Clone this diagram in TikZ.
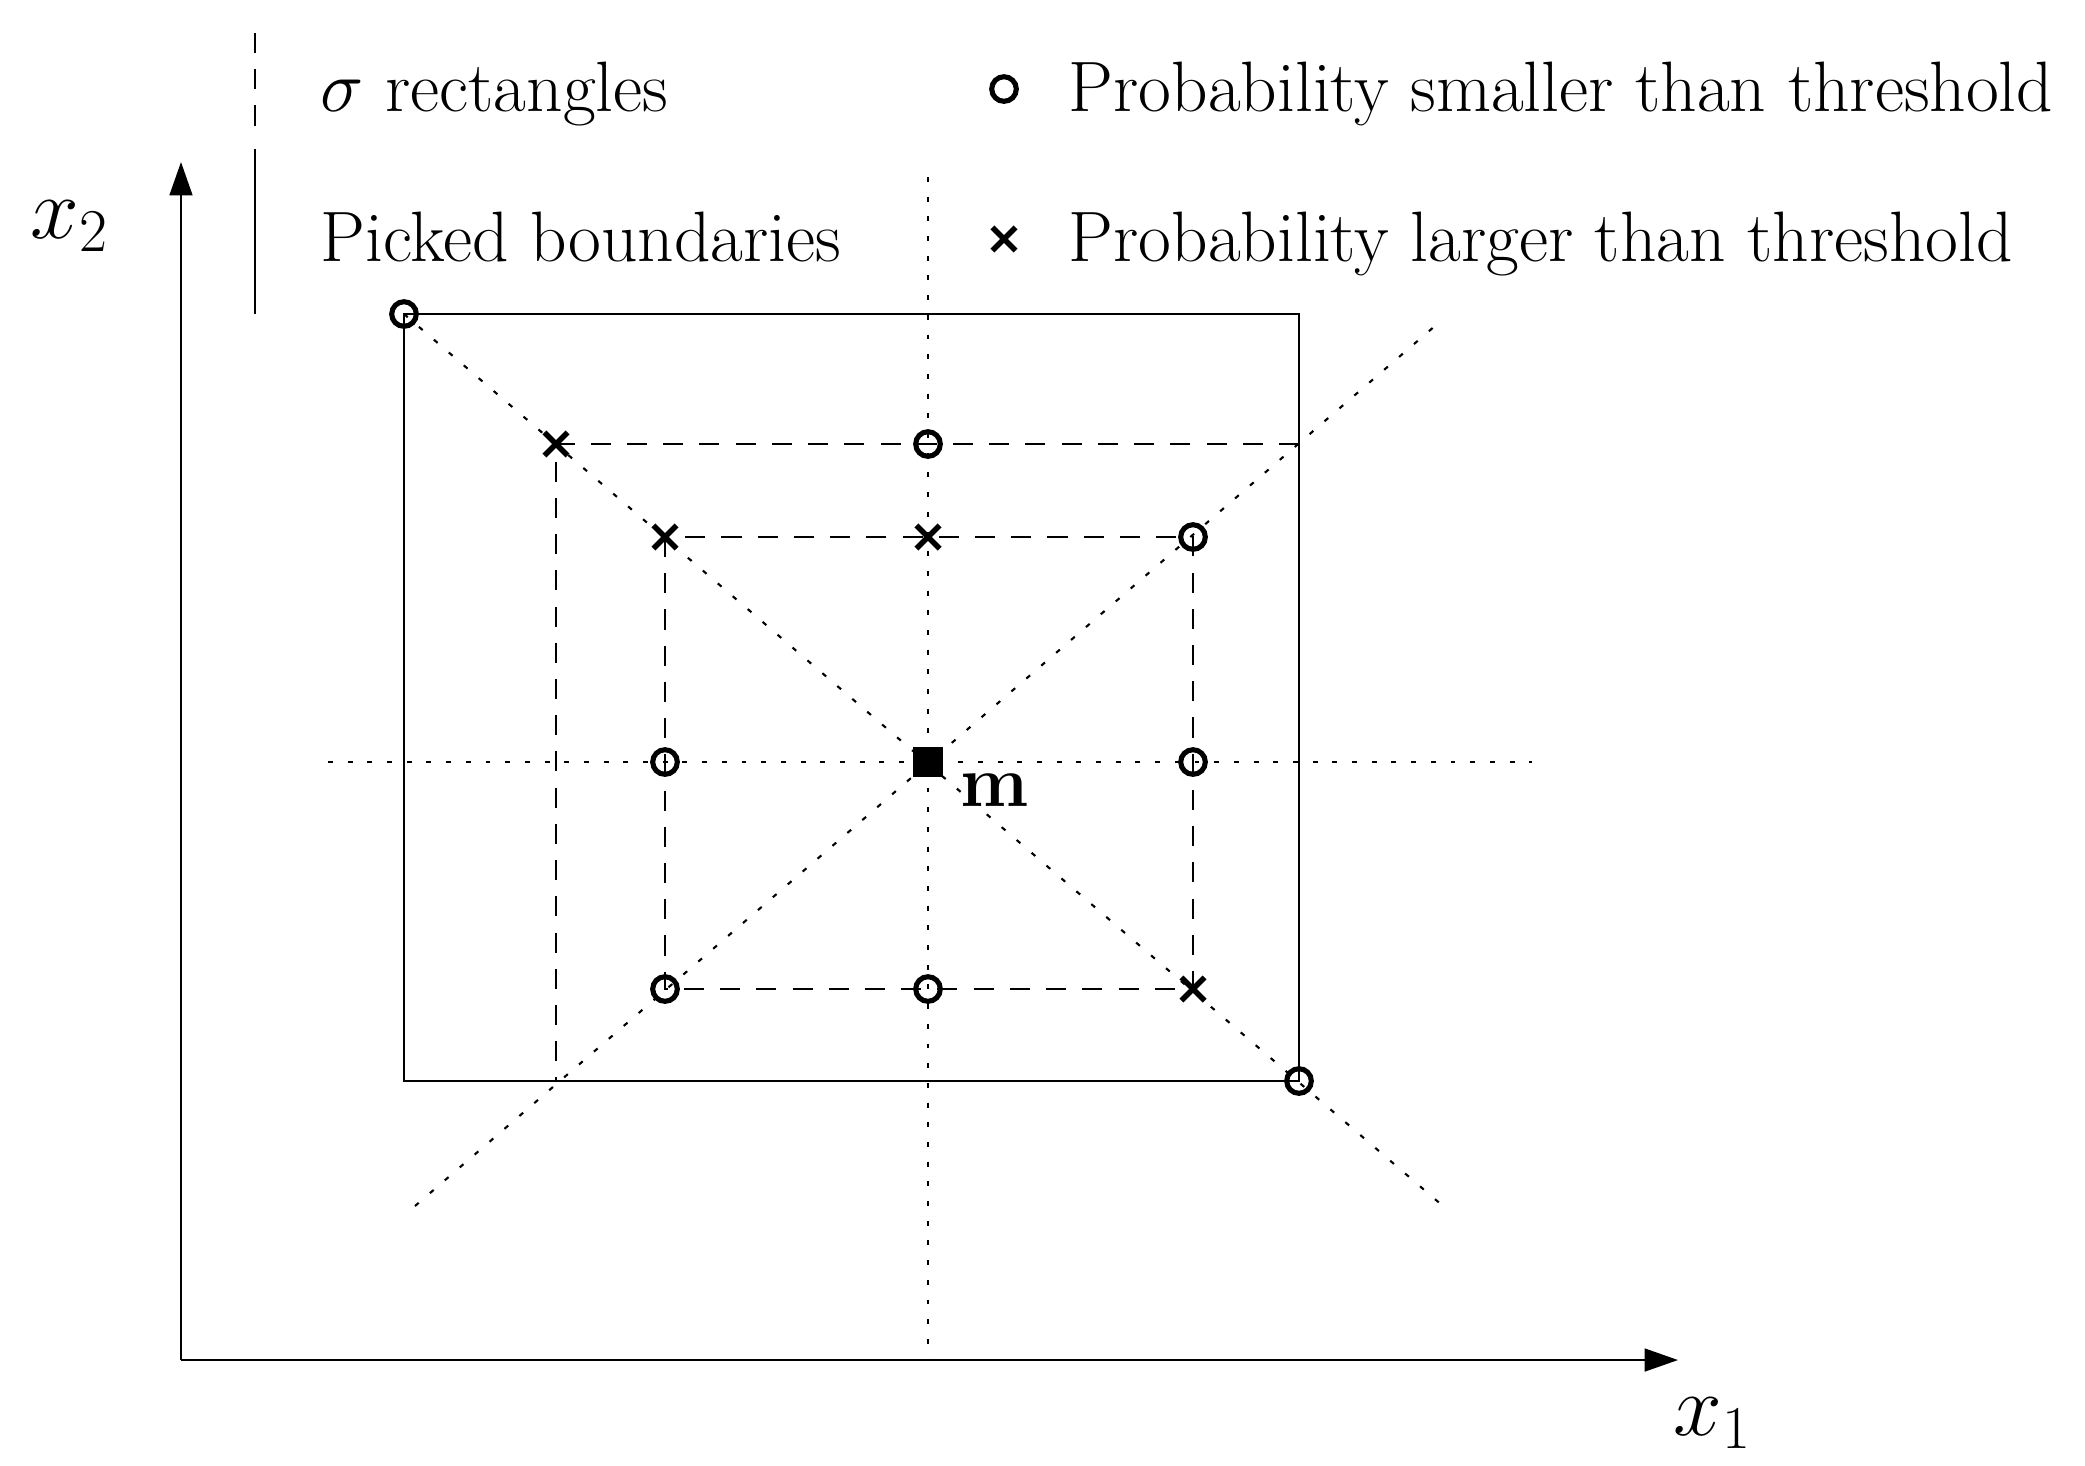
\documentclass[tikz,border=0pt]{standalone}
\usetikzlibrary{arrows.meta}
\tikzset{
  ax/.style={line width=0.6pt,-{Triangle[length=9.5pt,width=6.5pt]}},
  solidln/.style={line width=0.6pt},
  dashln/.style={line width=0.6pt,dash pattern=on 5.7pt off 4.6pt},
  dotln/.style={line width=0.6pt,dash pattern=on 1.4pt off 4.2pt},
  lowp/.pic={\draw[line width=1.45pt] (0,0) circle (3.5pt);},
  highp/.pic={\draw[line width=1.55pt] (-3.3pt,-3.3pt) -- (3.3pt,3.3pt) (-3.3pt,3.3pt) -- (3.3pt,-3.3pt);},
  lbl/.style={anchor=base west,inner sep=0pt},
  axlbl/.style={font=\fontsize{24}{28}\selectfont}
}
\begin{document}
\begin{tikzpicture}[x=0.01cm,y=-0.01cm,font=\fontsize{20.3}{24}\selectfont]
\useasboundingbox (0,0) rectangle (2085,1465);
% key points
\coordinate (O) at (181,1360);
\coordinate (Xt) at (1678,1360);
\coordinate (Yt) at (181,162);
\coordinate (c) at (928,762);
% axes
\draw[ax] (O) -- (Xt);
\draw[ax] (O) -- (Yt);
\node[axlbl] (x1) at (1713,1423) {$x_1$};
\node[axlbl] (x2) at (70,226) {$x_2$};
% guide lines (dotted)
\coordinate (vt) at (928,177);
\coordinate (vb) at (928,1360);
\coordinate (hl) at (328,762);
\coordinate (hr) at (1532,762);
\coordinate (d1a) at (404,314);
\coordinate (d1b) at (1443,1206);
\coordinate (d2a) at (415,1206);
\coordinate (d2b) at (1443,319);
\draw[dotln] (vt) -- (vb);
\draw[dotln] (hl) -- (hr);
\draw[dotln] (d1a) -- (d1b);
\draw[dotln] (d2a) -- (d2b);
% picked boundaries
\draw[solidln] (404,314) rectangle (1299,1081);
% sigma rectangles
\draw[dashln] (1299,444) -- (556,444) -- (556,1081);
\draw[dashln] (665,537) rectangle (1193,989);
% centre
\fill (c) ++(-15,-15) rectangle ++(30,30);
\node (m) at (995,790) {$\mathbf{m}$};
% markers: probability smaller than threshold
\foreach \p in {(404,314),(928,444),(1193,537),(665,762),(1193,762),(665,989),(928,989),(1299,1081)}
  \pic at \p {lowp};
% markers: probability larger than threshold
\foreach \p in {(556,444),(665,537),(928,537),(1193,989)}
  \pic at \p {highp};
% legend
\coordinate (la) at (255,33);
\coordinate (lb) at (255,130);
\coordinate (lc) at (255,149);
\coordinate (ld) at (255,314);
\draw[dashln] (la) -- (lb);
\draw[solidln] (lc) -- (ld);
\node[lbl] (t1) at (320,111) {$\sigma$ rectangles};
\node[lbl] (t2) at (320,261) {Picked boundaries};
\pic at (1004,89) {lowp};
\pic at (1004,239) {highp};
\node[lbl] (t3) at (1068,111) {Probability smaller than threshold};
\node[lbl] (t4) at (1068,261) {Probability larger than threshold};
\end{tikzpicture}
\end{document}
